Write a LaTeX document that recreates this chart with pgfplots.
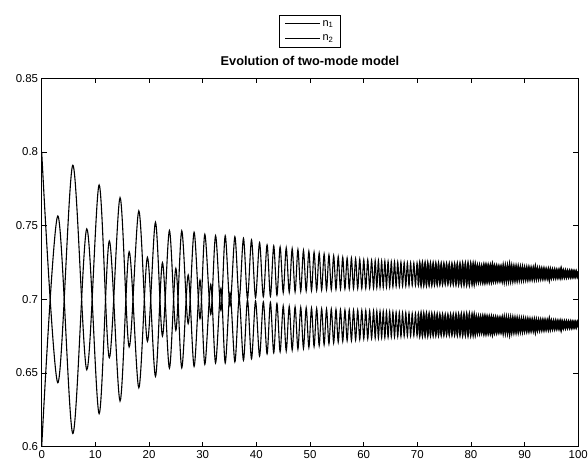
\documentclass[border=0pt]{standalone}
\usepackage{pgfplots}
\usepackage{pgfplotstable}
\usepackage{fontspec}
\setmainfont{Liberation Sans}
\pgfplotsset{compat=1.18}
\pgfplotstableread{
t a b
0.0 0.8000 0.6000
3.0 0.6434 0.7566
5.8 0.7910 0.6090
8.4 0.6522 0.7478
10.7 0.7776 0.6224
12.6 0.6604 0.7396
14.6 0.7690 0.6310
16.3 0.6677 0.7323
18.1 0.7600 0.6400
19.7 0.6715 0.7285
21.2 0.7523 0.6477
22.5 0.6751 0.7249
23.8 0.7467 0.6533
25.0 0.6790 0.7210
26.1 0.7465 0.6535
27.3 0.6835 0.7165
28.4 0.7455 0.6545
29.5 0.6869 0.7131
30.4 0.7441 0.6559
31.5 0.6898 0.7102
32.4 0.7432 0.6568
33.4 0.6925 0.7075
34.2 0.7432 0.6568
35.1 0.6955 0.7045
36.0 0.7425 0.6575
36.8 0.6995 0.7005
37.6 0.7414 0.6586
38.35 0.7005 0.6995
39.1 0.7403 0.6597
39.85 0.7012 0.6988
40.6 0.7385 0.6615
41.3 0.7017 0.6983
42.0 0.7370 0.6630
42.62 0.7020 0.6980
43.24 0.7363 0.6637
43.84 0.7028 0.6972
44.43 0.7356 0.6644
45.01 0.7045 0.6955
45.57 0.7350 0.6650
46.13 0.7048 0.6952
46.68 0.7344 0.6656
47.22 0.7051 0.6949
47.75 0.7338 0.6662
48.27 0.7054 0.6946
48.78 0.7332 0.6668
49.29 0.7057 0.6943
49.79 0.7326 0.6674
50.28 0.7060 0.6940
50.76 0.7320 0.6680
51.24 0.7062 0.6938
51.71 0.7314 0.6686
52.17 0.7064 0.6936
52.63 0.7308 0.6692
53.08 0.7066 0.6934
53.53 0.7302 0.6698
53.97 0.7066 0.6934
54.41 0.7296 0.6704
54.84 0.7068 0.6932
55.26 0.7290 0.6710
55.68 0.7070 0.6930
56.10 0.7285 0.6715
56.51 0.7071 0.6929
56.92 0.7280 0.6720
57.32 0.7072 0.6928
57.72 0.7280 0.6720
58.11 0.7073 0.6927
58.50 0.7276 0.6724
58.89 0.7073 0.6927
59.27 0.7272 0.6728
59.65 0.7074 0.6926
60.02 0.7268 0.6732
60.39 0.7075 0.6925
60.76 0.7268 0.6732
61.12 0.7077 0.6923
61.48 0.7265 0.6735
61.84 0.7077 0.6923
62.15 0.7263 0.6737
62.45 0.7079 0.6921
62.75 0.7263 0.6737
63.05 0.7081 0.6919
63.35 0.7260 0.6740
63.65 0.7081 0.6919
63.95 0.7260 0.6740
64.25 0.7083 0.6917
64.55 0.7257 0.6743
64.85 0.7083 0.6917
65.15 0.7255 0.6745
65.45 0.7085 0.6915
65.75 0.7255 0.6745
66.05 0.7088 0.6912
66.35 0.7253 0.6747
66.65 0.7088 0.6912
66.95 0.7253 0.6747
67.25 0.7090 0.6910
67.55 0.7251 0.6749
67.85 0.7090 0.6910
68.15 0.7249 0.6751
68.45 0.7092 0.6908
68.75 0.7249 0.6751
69.05 0.7095 0.6905
69.35 0.7247 0.6753
69.65 0.7095 0.6905
69.95 0.7247 0.6753
70.20 0.7097 0.6903
70.45 0.7245 0.6755
70.70 0.7097 0.6903
70.95 0.7245 0.6755
71.20 0.7099 0.6901
71.45 0.7244 0.6756
71.70 0.7099 0.6901
71.95 0.7244 0.6756
72.20 0.7101 0.6899
72.45 0.7242 0.6758
72.70 0.7101 0.6899
72.95 0.7242 0.6758
73.20 0.7104 0.6896
73.45 0.7241 0.6759
73.70 0.7104 0.6896
73.95 0.7241 0.6759
74.20 0.7106 0.6894
74.45 0.7239 0.6761
74.70 0.7106 0.6894
74.95 0.7239 0.6761
75.20 0.7108 0.6892
75.45 0.7238 0.6762
75.70 0.7108 0.6892
75.95 0.7238 0.6762
76.20 0.7106 0.6894
76.45 0.7238 0.6762
76.70 0.7106 0.6894
76.95 0.7238 0.6762
77.20 0.7104 0.6896
77.45 0.7240 0.6760
77.70 0.7104 0.6896
77.95 0.7240 0.6760
78.20 0.7102 0.6898
78.45 0.7242 0.6758
78.70 0.7102 0.6898
78.95 0.7242 0.6758
79.20 0.7101 0.6899
79.45 0.7243 0.6757
79.70 0.7101 0.6899
79.95 0.7243 0.6757
80.2 0.7106 0.6894
80.4 0.7238 0.6762
80.6 0.7106 0.6894
80.8 0.7238 0.6762
81.0 0.7118 0.6882
81.2 0.7229 0.6771
81.4 0.7118 0.6882
81.6 0.7229 0.6771
81.8 0.7118 0.6882
82.0 0.7226 0.6774
82.2 0.7122 0.6878
82.4 0.7226 0.6774
82.6 0.7122 0.6878
82.8 0.7226 0.6774
83.0 0.7125 0.6875
83.2 0.7224 0.6776
83.4 0.7125 0.6875
83.6 0.7224 0.6776
83.8 0.7125 0.6875
84.0 0.7232 0.6768
84.2 0.7128 0.6872
84.4 0.7221 0.6779
84.6 0.7128 0.6872
84.8 0.7221 0.6779
85.0 0.7131 0.6869
85.2 0.7218 0.6782
85.4 0.7131 0.6869
85.6 0.7218 0.6782
85.8 0.7131 0.6869
86.0 0.7216 0.6784
86.2 0.7134 0.6866
86.4 0.7216 0.6784
86.6 0.7134 0.6866
86.8 0.7216 0.6784
87.0 0.7137 0.6863
87.2 0.7224 0.6776
87.4 0.7137 0.6863
87.6 0.7214 0.6786
87.8 0.7137 0.6863
88.0 0.7212 0.6788
88.2 0.7139 0.6861
88.4 0.7212 0.6788
88.6 0.7139 0.6861
88.8 0.7212 0.6788
89.0 0.7141 0.6859
89.2 0.7210 0.6790
89.4 0.7141 0.6859
89.6 0.7210 0.6790
89.8 0.7141 0.6859
90.0 0.7207 0.6793
90.2 0.7143 0.6857
90.4 0.7207 0.6793
90.6 0.7143 0.6857
90.8 0.7207 0.6793
91.0 0.7145 0.6855
91.2 0.7205 0.6795
91.4 0.7145 0.6855
91.6 0.7205 0.6795
91.8 0.7145 0.6855
92.0 0.7214 0.6786
92.2 0.7146 0.6854
92.4 0.7203 0.6797
92.6 0.7146 0.6854
92.8 0.7203 0.6797
93.0 0.7147 0.6853
93.2 0.7201 0.6799
93.4 0.7147 0.6853
93.6 0.7201 0.6799
93.8 0.7147 0.6853
94.0 0.7199 0.6801
94.2 0.7148 0.6852
94.4 0.7199 0.6801
94.6 0.7138 0.6862
94.8 0.7199 0.6801
95.0 0.7150 0.6850
95.2 0.7197 0.6803
95.4 0.7150 0.6850
95.6 0.7197 0.6803
95.8 0.7150 0.6850
96.0 0.7195 0.6805
96.2 0.7151 0.6849
96.4 0.7195 0.6805
96.6 0.7151 0.6849
96.8 0.7204 0.6796
97.0 0.7152 0.6848
97.2 0.7193 0.6807
97.4 0.7152 0.6848
97.6 0.7193 0.6807
97.8 0.7152 0.6848
98.0 0.7191 0.6809
98.2 0.7153 0.6847
98.4 0.7191 0.6809
98.6 0.7153 0.6847
98.8 0.7191 0.6809
99.0 0.7154 0.6846
99.2 0.7189 0.6811
99.4 0.7154 0.6846
99.6 0.7189 0.6811
99.8 0.7154 0.6846
100.0 0.7189 0.6811
}\datatable
\begin{document}
\begin{tikzpicture}
\useasboundingbox (-41.7bp,-19.3bp) rectangle (546.3bp,446.7bp);
\begin{axis}[
  scale only axis,
  width=536.6bp, height=368.4bp,
  xmin=0, xmax=100, ymin=0.6, ymax=0.85,
  xtick={0,10,20,30,40,50,60,70,80,90,100},
  ytick={0.6,0.65,0.7,0.75,0.8,0.85},
  yticklabels={0.6,0.65,0.7,0.75,0.8,0.85},
  tick align=inside,
  major tick length=5bp,
  line width=0.6bp,
  tick style={line width=0.6bp, black},
  axis line style={line width=0.6bp, black},
  /pgf/number format/assume math mode=true,
  tick label style={font=\fontsize{11.5}{13}\selectfont},
  title={Evolution of two-mode model},
  title style={font=\bfseries\fontsize{12.8}{15}\selectfont, at={(0.5,1)}, anchor=base, yshift=6.6bp},
  legend style={at={(0.5,1.083)}, anchor=south, draw=black, line width=0.6bp,
    font=\fontsize{11}{13}\selectfont, legend cell align=left,
    inner xsep=5bp, inner ysep=3bp, row sep=3.5bp,
    /tikz/every even column/.append style={column sep=1bp}},
  legend image code/.code={\draw[#1] (0bp,0bp) -- (35bp,0bp);},
]
\addplot[black, line width=1.1bp, smooth] table[x=t, y=a] {\datatable};
\addlegendentry{n\textsubscript{1}}
\addplot[black, line width=1.1bp, smooth] table[x=t, y=b] {\datatable};
\addlegendentry{n\textsubscript{2}}
\addplot[forget plot, black, line width=1.5bp, smooth, restrict x to domain=70:100] table[x=t, y=a] {\datatable};
\addplot[forget plot, black, line width=1.5bp, smooth, restrict x to domain=70:100] table[x=t, y=b] {\datatable};
\addplot[forget plot, black, line width=1.9bp, smooth, restrict x to domain=82:100] table[x=t, y=a] {\datatable};
\addplot[forget plot, black, line width=1.9bp, smooth, restrict x to domain=82:100] table[x=t, y=b] {\datatable};
\end{axis}
\end{tikzpicture}
\end{document}
